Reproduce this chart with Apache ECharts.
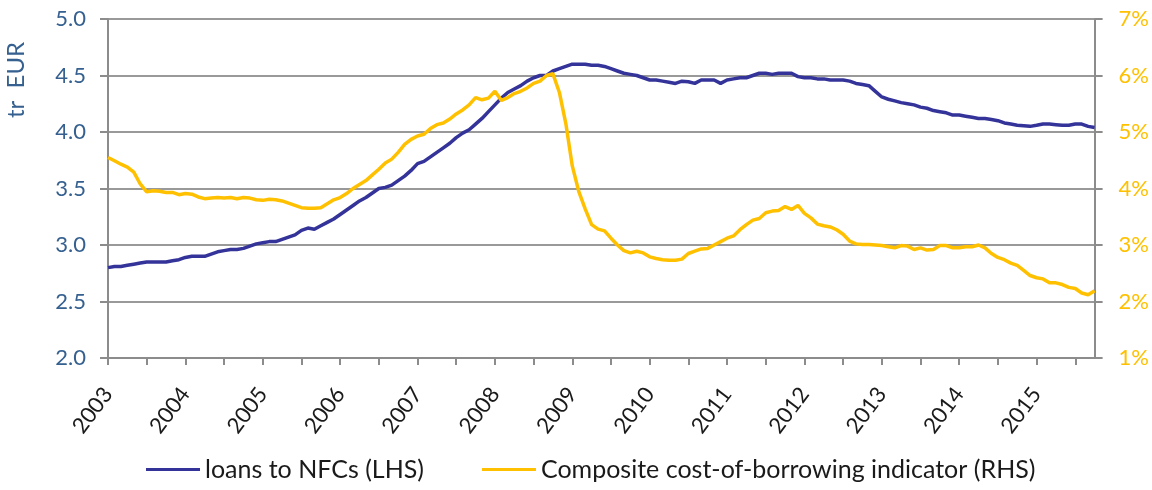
<!DOCTYPE html>
<html>
    <head>
        <meta charset="UTF-8" />
        <title>Loans to NFCs and cost of borrowing</title>
        <script src="https://cdn.jsdelivr.net/npm/echarts@6/dist/echarts.min.js"></script>
        <style>
            html,
            body {
                margin: 0;
                padding: 0;
                background: #fff;
            }
            #chart {
                width: 1152px;
                height: 490px;
            }
        </style>
    </head>
    <body>
        <div id="chart"></div>
        <script>
            // monthly, Jan 2003 onwards
            const startYear = 2003;
            const endYear = 2015.75;
            const seriesNames = ["loans to NFCs (LHS)", "Composite cost-of-borrowing indicator (RHS)"];

            // tr EUR
            const loans = [
                2.80, 2.81, 2.81, 2.82, 2.83, 2.84, 2.85, 2.85, 2.85, 2.85, 2.86, 2.87,
                2.89, 2.90, 2.90, 2.90, 2.92, 2.94, 2.95, 2.96, 2.96, 2.97, 2.99, 3.01,
                3.02, 3.03, 3.03, 3.05, 3.07, 3.09, 3.13, 3.15, 3.14, 3.17, 3.20, 3.23,
                3.27, 3.31, 3.35, 3.39, 3.42, 3.46, 3.50, 3.51, 3.53, 3.57, 3.61, 3.66,
                3.72, 3.74, 3.78, 3.82, 3.86, 3.90, 3.95, 3.99, 4.02, 4.07, 4.12, 4.18,
                4.24, 4.30, 4.35, 4.38, 4.41, 4.45, 4.48, 4.50, 4.50, 4.54, 4.56, 4.58,
                4.60, 4.60, 4.60, 4.59, 4.59, 4.58, 4.56, 4.54, 4.52, 4.51, 4.50, 4.48,
                4.46, 4.46, 4.45, 4.44, 4.43, 4.45, 4.445, 4.43, 4.46, 4.46, 4.46, 4.43,
                4.46, 4.47, 4.48, 4.48, 4.50, 4.52, 4.52, 4.51, 4.52, 4.52, 4.52, 4.49,
                4.48, 4.48, 4.47, 4.47, 4.46, 4.46, 4.46, 4.45, 4.43, 4.42, 4.41, 4.36,
                4.31, 4.29, 4.275, 4.26, 4.25, 4.24, 4.22, 4.21, 4.19, 4.18, 4.17, 4.15,
                4.15, 4.14, 4.13, 4.12, 4.12, 4.11, 4.10, 4.08, 4.07, 4.06, 4.055, 4.05,
                4.06, 4.07, 4.07, 4.065, 4.06, 4.06, 4.07, 4.07, 4.05, 4.04
            ];

            // %
            const borrowingCost = [
                4.55, 4.49, 4.43, 4.38, 4.29, 4.08, 3.94, 3.96, 3.95, 3.93, 3.93, 3.89,
                3.91, 3.90, 3.85, 3.82, 3.83, 3.84, 3.83, 3.84, 3.82, 3.84, 3.83, 3.80,
                3.79, 3.81, 3.80, 3.78, 3.74, 3.70, 3.66, 3.65, 3.65, 3.66, 3.73, 3.80,
                3.84, 3.91, 4.00, 4.07, 4.14, 4.24, 4.34, 4.45, 4.52, 4.64, 4.78, 4.87,
                4.93, 4.96, 5.06, 5.13, 5.16, 5.23, 5.32, 5.39, 5.48, 5.61, 5.57, 5.60,
                5.72, 5.56, 5.61, 5.68, 5.72, 5.78, 5.86, 5.90, 6.00, 6.03, 5.70, 5.15,
                4.40, 3.95, 3.64, 3.36, 3.28, 3.25, 3.12, 3.00, 2.90, 2.86, 2.89, 2.86,
                2.79, 2.76, 2.74, 2.73, 2.73, 2.75, 2.85, 2.89, 2.93, 2.94, 3.00, 3.06,
                3.12, 3.16, 3.27, 3.36, 3.44, 3.47, 3.57, 3.60, 3.61, 3.68, 3.63, 3.70,
                3.56, 3.48, 3.37, 3.34, 3.32, 3.27, 3.19, 3.07, 3.02, 3.01, 3.01, 3.00,
                2.99, 2.97, 2.95, 2.99, 2.98, 2.92, 2.95, 2.91, 2.92, 2.99, 2.99, 2.95,
                2.95, 2.97, 2.97, 3.00, 2.95, 2.85, 2.78, 2.74, 2.68, 2.64, 2.55, 2.46,
                2.42, 2.40, 2.33, 2.33, 2.30, 2.25, 2.23, 2.15, 2.12, 2.19
            ];

            const font = "Lato, 'DejaVu Sans', sans-serif";
            const chart = echarts.init(document.getElementById("chart"));

            const toPoints = (arr) => arr.map((v, i) => [startYear + i / 12, v]);

            chart.setOption({
                animation: false,
                textStyle: { fontFamily: font },
                grid: { left: 108, right: 56, top: 19, bottom: 132 },
                legend: {
                    left: 141,
                    top: 452,
                    icon: "rect",
                    itemWidth: 54,
                    itemHeight: 3,
                    itemGap: 58,
                    textStyle: { fontSize: 25, color: "#1a1a1a", fontFamily: font },
                    data: seriesNames,
                },
                graphic: [
                    {
                        type: "text",
                        x: 16,
                        y: 80,
                        rotation: Math.PI / 2,
                        style: {
                            text: "tr  EUR",
                            fontSize: 24,
                            fontFamily: font,
                            fill: "#35608f",
                            align: "center",
                            verticalAlign: "middle",
                        },
                    },
                ],
                xAxis: {
                    type: "value",
                    min: startYear,
                    max: endYear,
                    interval: 0.5,
                    axisLine: { lineStyle: { color: "#8c8c8c", width: 2 } },
                    axisTick: { show: true, length: 7, lineStyle: { color: "#8c8c8c", width: 2 } },
                    splitLine: { show: false },
                    axisLabel: {
                        rotate: 53,
                        margin: 32,
                        fontSize: 22,
                        color: "#1a1a1a",
                        showMaxLabel: false,
                        formatter: (v) => (Number.isInteger(v) ? String(v) : ""),
                    },
                },
                yAxis: [
                    {
                        type: "value",
                        min: 2,
                        max: 5,
                        interval: 0.5,
                        axisLine: { show: true, lineStyle: { color: "#8c8c8c", width: 2 } },
                        axisTick: { show: true, length: 8, lineStyle: { color: "#8c8c8c", width: 2 } },
                        splitLine: { lineStyle: { color: "#999", width: 2 } },
                        axisLabel: {
                            margin: 22,
                            fontSize: 22,
                            color: "#35608f",
                            formatter: (v) => v.toFixed(1),
                        },
                    },
                    {
                        type: "value",
                        min: 1,
                        max: 7,
                        interval: 1,
                        position: "right",
                        axisLine: { show: true, lineStyle: { color: "#8c8c8c", width: 2 } },
                        axisTick: { show: true, length: 8, lineStyle: { color: "#8c8c8c", width: 2 } },
                        splitLine: { show: false },
                        axisLabel: {
                            margin: 24,
                            fontSize: 22,
                            color: "#ffc000",
                            formatter: "{value}%",
                        },
                    },
                ],
                series: [
                    {
                        name: seriesNames[0],
                        type: "line",
                        yAxisIndex: 0,
                        symbol: "none",
                        data: toPoints(loans),
                        lineStyle: { color: "#333399", width: 3.5 },
                        itemStyle: { color: "#333399" },
                    },
                    {
                        name: seriesNames[1],
                        type: "line",
                        yAxisIndex: 1,
                        symbol: "none",
                        data: toPoints(borrowingCost),
                        lineStyle: { color: "#ffc000", width: 3.5 },
                        itemStyle: { color: "#ffc000" },
                    },
                ],
            });
        </script>
    </body>
</html>
